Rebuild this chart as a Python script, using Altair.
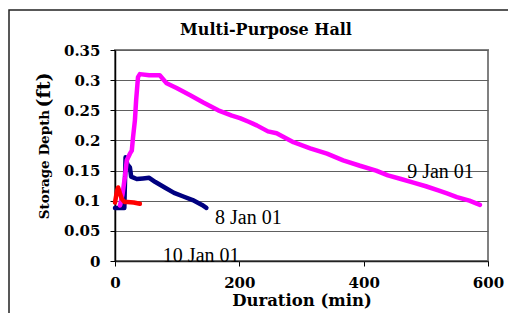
import altair as alt
import pandas as pd

# ---- data ----
t_8jan = [0, 15, 17, 20, 24, 26, 35, 45, 55, 65, 80, 95, 110, 125, 140, 147]
d_8jan = [0.088, 0.088, 0.172, 0.16, 0.155, 0.14, 0.136, 0.137, 0.138, 0.131,
          0.122, 0.113, 0.107, 0.101, 0.093, 0.088]

t_9jan = [8, 12, 16, 19, 24, 27, 29, 32, 34, 37, 40, 55, 72, 83, 99, 121, 142,
          166, 188, 201, 215, 228, 246, 260, 287, 314, 341, 367, 394, 420, 439,
          460, 480, 500, 520, 534, 550, 570, 587]
d_9jan = [0.092, 0.11, 0.14, 0.167, 0.178, 0.183, 0.205, 0.233, 0.267, 0.305,
          0.31, 0.308, 0.308, 0.295, 0.287, 0.275, 0.263, 0.25, 0.241, 0.237,
          0.231, 0.225, 0.215, 0.212, 0.197, 0.187, 0.178, 0.167, 0.158, 0.15,
          0.142, 0.136, 0.13, 0.124, 0.117, 0.112, 0.106, 0.1, 0.093]

t_10jan = [0, 3, 5, 8, 11, 15, 20, 30, 40]
d_10jan = [0.097, 0.115, 0.122, 0.112, 0.103, 0.098, 0.098, 0.097, 0.095]

series_names = ["8 Jan 01", "9 Jan 01", "10 Jan 01"]
series_colors = ["#000080", "#FF00FF", "#FF0000"]

label_text = ["9 Jan 01", "8 Jan 01", "10 Jan 01"]
label_t = [470, 161, 77]
label_d = [0.138, 0.062, -0.002]

x_ticks = [0, 200, 400, 600]
y_ticks = [0, 0.05, 0.1, 0.15, 0.2, 0.25, 0.3, 0.35]

chart_title = "Multi-Purpose Hall"

# ---- build tables ----
rows = []
for name, ts, ds in zip(series_names, [t_8jan, t_9jan, t_10jan], [d_8jan, d_9jan, d_10jan]):
    for t, d in zip(ts, ds):
        rows.append({"series": name, "t": t, "d": d})
df = pd.DataFrame(rows)
labels = pd.DataFrame({"label": label_text, "t": label_t, "d": label_d})

SERIF = "DejaVu Serif"

x_enc = alt.X(
    "t:Q",
    scale=alt.Scale(domain=[0, 600], nice=False),
    axis=alt.Axis(
        values=x_ticks, title="Duration (min)", grid=False, labelFlush=False,
        labelFont=SERIF, labelFontSize=15, labelFontWeight="bold", labelColor="black",
        labelPadding=9, tickSize=5, tickColor="black", domainColor="#222222",
        domainWidth=1.5, titleFont=SERIF, titleFontSize=16.5, titleFontWeight="bold",
        titleColor="black", titlePadding=2,
    ),
)
y_enc = alt.Y(
    "d:Q",
    scale=alt.Scale(domain=[0, 0.35], nice=False),
    axis=alt.Axis(
        values=y_ticks, format=".2~f", title="Storage Depth", grid=True, labelFlush=False,
        gridColor="#606060", gridWidth=1,
        labelFont=SERIF, labelFontSize=15, labelFontWeight="bold", labelColor="black",
        labelPadding=10, tickSize=5, tickColor="black", domainColor="black",
        domainWidth=1.5, titleFont=SERIF, titleFontSize=13.5, titleFontWeight="bold",
        titleColor="black", titleX=-67, titleY=114, titleAlign="center",
        titleBaseline="alphabetic", titleAngle=270,
    ),
)

layers = []
for name, color in zip(series_names, series_colors):
    layers.append(
        alt.Chart(df).transform_filter(alt.datum.series == name)
        .mark_line(color=color, strokeWidth=4.5, strokeJoin="round", strokeCap="round")
        .encode(x=x_enc, y=y_enc)
    )

text_layer = alt.Chart(labels).mark_text(
    font="Liberation Serif", fontSize=20, align="left", baseline="alphabetic", color="black"
).encode(x=x_enc, y=y_enc, text="label:N")

unit_layer = alt.Chart(pd.DataFrame({"u": ["(ft)"]})).mark_text(
    font=SERIF, fontSize=19, fontWeight="bold", angle=270, align="center",
    baseline="alphabetic", color="black"
).encode(x=alt.value(-65), y=alt.value(40), text="u:N")

title_layer = alt.Chart(pd.DataFrame({"ttl": [chart_title]})).mark_text(
    font=SERIF, fontSize=16, fontWeight="bold", align="center",
    baseline="alphabetic", color="black"
).encode(x=alt.value(151), y=alt.value(-15), text="ttl:N")

frame_layer = alt.Chart(pd.DataFrame({"f": [1]})).mark_rect(
    fill=None, stroke="#222222", strokeWidth=1.5
).encode(x=alt.value(-106), y=alt.value(-40), x2=alt.value(520), y2=alt.value(420))

chart = alt.layer(frame_layer, *layers, text_layer, unit_layer, title_layer).properties(
    width=373, height=211,
    autosize=alt.AutoSizeParams(type="none"),
    padding={"left": 107, "top": 42, "right": 20, "bottom": 52},
).configure_view(stroke="#808080", strokeWidth=2)

chart.save("out.html", embed_options={"renderer": "svg", "actions": False})
